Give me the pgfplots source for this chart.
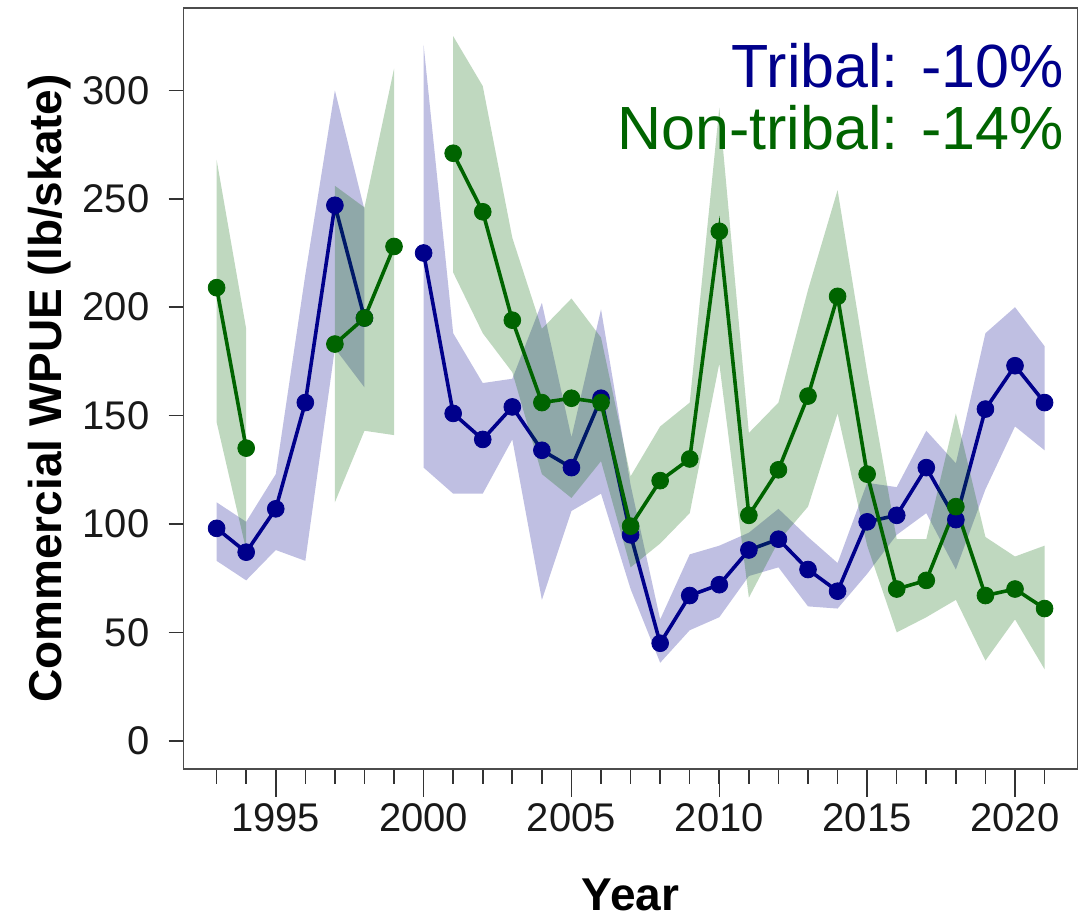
\documentclass[border=0pt]{standalone}
\usepackage{pgfplots}
\pgfplotsset{compat=1.18}
\usepackage{fontspec}
\setmainfont{Liberation Sans}
\definecolor{tribal}{RGB}{0,0,139}
\definecolor{nontribal}{RGB}{0,100,0}
\pgfplotsset{
  frame/.style={
    scale only axis, width=447.1pt, height=380.5pt,
    at={(0,0)}, anchor=south west,
    xmin=1991.88, xmax=2022.12, ymin=-13, ymax=338,
    tick style={black!80, line width=0.8pt},
    tick align=outside, tick pos=left,
    tick label style={font=\fontsize{20}{20}\selectfont, black!90},
  }
}
\begin{document}
\begin{tikzpicture}
% long ticks and labels of the years
\begin{axis}[frame,
  axis line style={draw=none},
  major tick length=14pt,
  xtick={1995,2000,2005,2010,2015,2020},
  xticklabels={1995,2000,2005,2010,2015,2020},
  ytick=\empty,
]
\end{axis}
\begin{axis}[frame,
  axis line style={black!70, line width=0.8pt},
  major tick length=7.5pt,
  xtick={1993,...,2021},
  xticklabels={},
  ytick={0,50,100,150,200,250,300},
  yticklabels={0,50,100,150,200,250,300},
  yticklabel style={xshift=-6pt},
  xlabel={Year}, ylabel={Commercial WPUE (lb/skate)},
  label style={font=\bfseries\fontsize{23}{23}\selectfont},
  xlabel style={at={(axis description cs:0.5,-0.1866)}, anchor=base},
  ylabel style={at={(axis description cs:-0.1365,0.5)}, anchor=base, rotate=0},
  unbounded coords=jump,
]
% Tribal band
\addplot[draw=none, fill=tribal, fill opacity=0.25] coordinates {
 (1993,110) (1994,101) (1995,123) (1996,215) (1997,300) (1998,245)
 (1998,163) (1997,181) (1996,83) (1995,88) (1994,74) (1993,83)} -- cycle;
\addplot[draw=none, fill=tribal, fill opacity=0.25] coordinates {
 (2000,321) (2001,188) (2002,165) (2003,167) (2004,202) (2005,140) (2006,199)
 (2007,118) (2008,56) (2009,86) (2010,90) (2011,96) (2012,107) (2013,94)
 (2014,82) (2015,119) (2016,117) (2017,143) (2018,128) (2019,188) (2020,200) (2021,182)
 (2021,134) (2020,145) (2019,116) (2018,79) (2017,105) (2016,95) (2015,77)
 (2014,61) (2013,62) (2012,80) (2011,76) (2010,57) (2009,51) (2008,36) (2007,70)
 (2006,114) (2005,106) (2004,65) (2003,139) (2002,114) (2001,114) (2000,126)} -- cycle;
% Tribal line
\addplot[tribal, line width=1.8pt, mark=*, mark size=4.2pt, mark options={solid, line width=0.4pt}] coordinates {
 (1993,98) (1994,87) (1995,107) (1996,156) (1997,247) (1998,195) (1999,nan)
 (2000,225) (2001,151) (2002,139) (2003,154) (2004,134) (2005,126) (2006,158)
 (2007,95) (2008,45) (2009,67) (2010,72) (2011,88) (2012,93) (2013,79) (2014,69)
 (2015,101) (2016,104) (2017,126) (2018,102) (2019,153) (2020,173) (2021,156)};
% Non-tribal band
\addplot[draw=none, fill=nontribal, fill opacity=0.25] coordinates {
 (1993,268) (1994,190) (1994,88) (1993,147)} -- cycle;
\addplot[draw=none, fill=nontribal, fill opacity=0.25] coordinates {
 (1997,256) (1998,246) (1999,310) (1999,141) (1998,143) (1997,110)} -- cycle;
\addplot[draw=none, fill=nontribal, fill opacity=0.25] coordinates {
 (2001,325) (2002,302) (2003,232) (2004,190) (2005,204) (2006,186) (2007,122)
 (2008,145) (2009,156) (2010,292) (2011,142) (2012,156) (2013,208) (2014,254)
 (2015,170) (2016,93) (2017,93) (2018,151) (2019,94) (2020,85) (2021,90)
 (2021,33) (2020,56) (2019,37) (2018,65) (2017,57) (2016,50) (2015,90) (2014,151)
 (2013,108) (2012,92) (2011,66) (2010,174) (2009,105) (2008,91) (2007,80)
 (2006,129) (2005,112) (2004,123) (2003,170) (2002,188) (2001,216)} -- cycle;
% Non-tribal line
\addplot[nontribal, line width=1.8pt, mark=*, mark size=4.2pt, mark options={solid, line width=0.4pt}] coordinates {
 (1993,209) (1994,135) (1995,nan) (1997,183) (1998,195) (1999,228) (2000,nan)
 (2001,271) (2002,244) (2003,194) (2004,156) (2005,158) (2006,156) (2007,99)
 (2008,120) (2009,130) (2010,235) (2011,104) (2012,125) (2013,159) (2014,205)
 (2015,123) (2016,70) (2017,74) (2018,108) (2019,67) (2020,70) (2021,61)};
\node[anchor=base east, text=tribal, font=\fontsize{30.5}{30.5}\selectfont] at (rel axis cs:0.9925,0.8949) {Tribal: -10\%};
\node[anchor=base east, text=nontribal, font=\fontsize{30.5}{30.5}\selectfont] at (rel axis cs:0.9925,0.8134) {Non-tribal: -14\%};
\end{axis}
\pgfresetboundingbox
\useasboundingbox (-91.75pt,-75.5pt) rectangle (450.25pt,384.5pt);
\end{tikzpicture}
\end{document}
